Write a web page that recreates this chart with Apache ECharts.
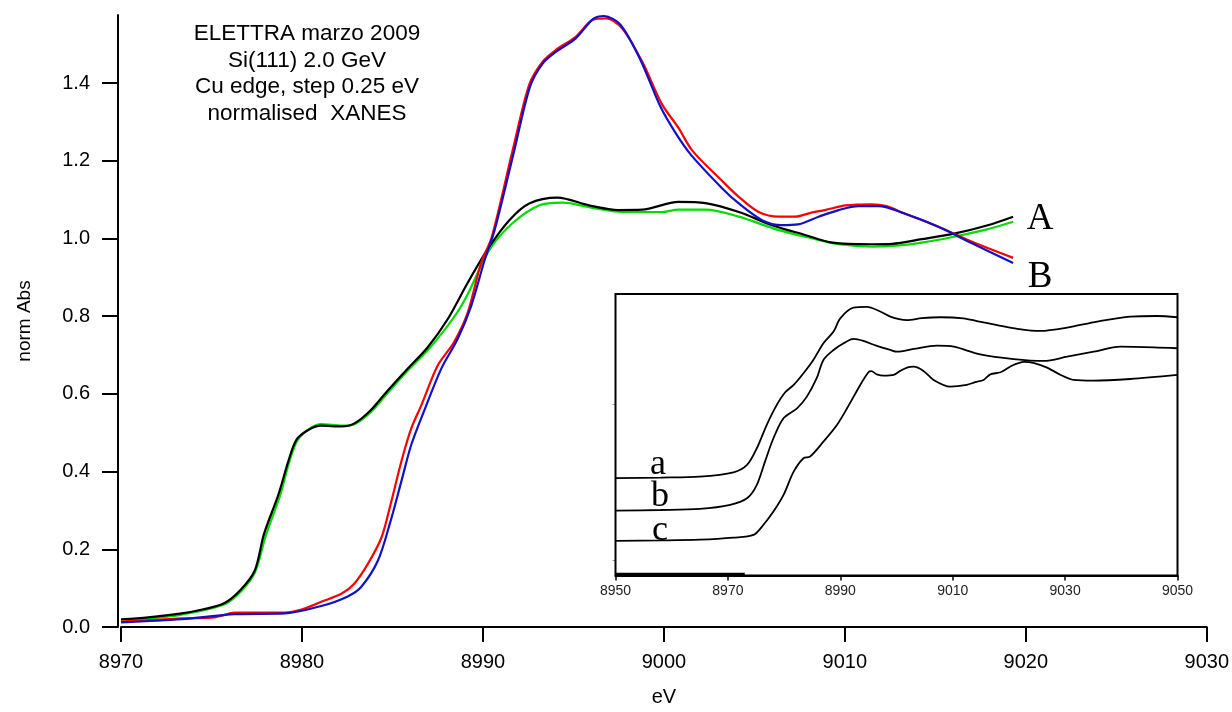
<!DOCTYPE html>
<html>
<head>
<meta charset="utf-8">
<script src="https://cdn.jsdelivr.net/npm/echarts@6/dist/echarts.min.js"></script>
<style>
  html, body { margin: 0; padding: 0; background: #fff; }
  #chart { width: 1232px; height: 712px; }
</style>
</head>
<body>
<div id="chart"></div>
<script>
// Cu K-edge XANES, normalised absorption vs photon energy (eV)
// Main panel: two pairs of spectra (A: black/green, B: red/blue)
const specA1 = [[8970,0.020],[8971.5,0.025],[8973.35,0.035],[8974.5,0.045],[8975.7,0.061],[8976.6,0.095],[8977.4,0.146],[8977.9,0.239],[8978.7,0.341],[8979.25,0.427],[8979.7,0.482],[8980.35,0.507],[8981.07,0.518],[8982.2,0.516],[8982.9,0.524],[8983.8,0.558],[8984.6,0.601],[8985.85,0.665],[8986.95,0.72],[8988.05,0.792],[8989.16,0.886],[8990.3,0.975],[8991.46,1.047],[8992.56,1.09],[8994.12,1.105],[8995.87,1.085],[8997.5,1.073],[8998.8,1.074],[9000.8,1.094],[9002.3,1.091],[9004.14,1.068],[9005.98,1.034],[9007.8,1.009],[9009.3,0.989],[9011.5,0.985],[9012.6,0.986],[9014.25,0.998],[9016.1,1.013],[9017.9,1.034],[9019.3,1.056]];
const specA2 = [[8970,0.018],[8971.5,0.022],[8973.35,0.032],[8975.7,0.058],[8976.6,0.09],[8977.4,0.14],[8978,0.235],[8978.8,0.34],[8979.3,0.425],[8979.75,0.48],[8980.4,0.51],[8981.07,0.522],[8982.2,0.518],[8982.9,0.522],[8983.8,0.553],[8984.6,0.595],[8985.85,0.66],[8986.95,0.712],[8988.05,0.775],[8988.7,0.818],[8989.2,0.86],[8990.35,0.97],[8991.63,1.039],[8993.1,1.085],[8994.4,1.092],[8996.24,1.077],[8997.7,1.068],[8999.9,1.068],[9000.8,1.074],[9002.3,1.074],[9004.14,1.056],[9006.3,1.022],[9008.2,1.0],[9009.66,0.985],[9011.5,0.979],[9013,0.982],[9014.25,0.989],[9015.9,1.003],[9017.75,1.022],[9019.3,1.043]];
const specB1 = [[8970,0.014],[8973.35,0.022],[8975.2,0.025],[8976.3,0.037],[8979.05,0.037],[8979.97,0.045],[8981.07,0.065],[8982.2,0.086],[8982.9,0.112],[8983.65,0.163],[8984.4,0.231],[8984.9,0.316],[8985.5,0.427],[8986.04,0.511],[8986.6,0.571],[8987.5,0.673],[8988.4,0.733],[8989.16,0.809],[8989.9,0.937],[8990.5,1.005],[8991.64,1.226],[8992.56,1.396],[8993.3,1.455],[8994.03,1.485],[8995.13,1.519],[8996.05,1.562],[8996.8,1.566],[8997.7,1.54],[8998.8,1.455],[8999.9,1.345],[9000.8,1.285],[9001.57,1.226],[9003.2,1.149],[9004.14,1.107],[9005.24,1.068],[9006.35,1.056],[9007.26,1.056],[9008.2,1.067],[9008.9,1.073],[9010.05,1.085],[9011.5,1.088],[9012.3,1.083],[9013.3,1.064],[9015.17,1.03],[9017,0.992],[9019.3,0.95]];
const specB2 = [[8970,0.012],[8973.35,0.02],[8976.3,0.033],[8979.05,0.035],[8981.07,0.054],[8982.5,0.078],[8983.27,0.103],[8984.2,0.171],[8984.9,0.273],[8985.5,0.376],[8986.04,0.469],[8986.8,0.562],[8987.7,0.665],[8988.6,0.741],[8989.35,0.826],[8990.1,0.945],[8990.65,1.022],[8991.7,1.22],[8992.6,1.39],[8993.3,1.45],[8994.03,1.48],[8995.13,1.515],[8996.1,1.565],[8996.7,1.572],[8997.6,1.55],[8998.7,1.46],[8999.8,1.34],[9000.6,1.275],[9001.5,1.215],[9003.2,1.13],[9004.14,1.09],[9005.43,1.047],[9006.5,1.034],[9007.4,1.036],[9008.55,1.056],[9009.66,1.073],[9010.76,1.083],[9011.86,1.083],[9013.3,1.064],[9015.17,1.03],[9017,0.988],[9019.3,0.937]];

// Inset: three reference spectra, vertically offset
const refA = [[8950,0.524],[8958,0.528],[8965,0.534],[8971,0.562],[8973.4,0.609],[8975.15,0.716],[8976.9,0.865],[8978.7,0.994],[8980.2,1.075],[8981.7,1.122],[8983.45,1.197],[8985.2,1.282],[8987,1.389],[8988.8,1.464],[8990,1.549],[8992.35,1.617],[8994.7,1.622],[8997.1,1.593],[8998.9,1.56],[9000.67,1.542],[9001.86,1.538],[9004.5,1.55],[9007.8,1.556],[9011.9,1.549],[9014.5,1.53],[9017.9,1.506],[9021.5,1.482],[9025.6,1.468],[9030.35,1.489],[9035.7,1.528],[9041.6,1.56],[9046.4,1.564],[9050,1.556]];
const refB = [[8950,0.316],[8958,0.32],[8965,0.327],[8970.4,0.353],[8973.4,0.395],[8975.15,0.481],[8976.6,0.63],[8978.1,0.78],[8979.9,0.908],[8982.3,0.972],[8984.05,1.047],[8985.8,1.165],[8987,1.282],[8988.8,1.346],[8990.6,1.389],[8992.35,1.417],[8994.1,1.404],[8996.5,1.372],[8998.9,1.346],[9000.1,1.335],[9003.05,1.353],[9007.2,1.374],[9010.2,1.367],[9014.9,1.318],[9020.85,1.288],[9026.2,1.276],[9030.35,1.303],[9035.1,1.335],[9039.85,1.367],[9045.8,1.363],[9050,1.357]];
const refC = [[8950,0.122],[8958,0.125],[8965,0.13],[8971,0.143],[8974.55,0.16],[8976.3,0.224],[8978.1,0.31],[8979.9,0.417],[8981.7,0.566],[8983.45,0.652],[8984.6,0.662],[8987,0.758],[8989.4,0.865],[8991.2,0.972],[8993.55,1.122],[8995,1.203],[8995.5,1.21],[8996.5,1.19],[8997.7,1.181],[8999.5,1.186],[9000.67,1.212],[9002,1.235],[9003.05,1.239],[9004.8,1.212],[9006.6,1.154],[9009.57,1.111],[9012.5,1.122],[9014,1.14],[9015.5,1.154],[9016.7,1.19],[9018.5,1.203],[9020.5,1.245],[9022.7,1.27],[9024.5,1.262],[9026.8,1.233],[9029.2,1.186],[9031.5,1.154],[9035.1,1.149],[9041.6,1.16],[9050,1.186]];
const refBase = [[8950,-0.09],[8973,-0.09]];

// Tick labels
const mainXTicks = [8970, 8980, 8990, 9000, 9010, 9020, 9030];
const mainYTicks = [0, 0.2, 0.4, 0.6, 0.8, 1.0, 1.2, 1.4];
const insetXTicks = [8950, 8970, 8990, 9010, 9030, 9050];
const insetYTicks = [0, 1];

const infoLines = ['ELETTRA marzo 2009', 'Si(111) 2.0 GeV', 'Cu edge, step 0.25 eV', 'normalised  XANES'];

const SANS = '"Liberation Sans", Arial, sans-serif';
const SERIF = '"Liberation Serif", "Times New Roman", serif';

const chart = echarts.init(document.getElementById('chart'), null, { renderer: 'canvas' });

function lineSeries(name, data, color, width, axisIdx) {
  return {
    name, type: 'line', data,
    xAxisIndex: axisIdx, yAxisIndex: axisIdx,
    showSymbol: false, symbol: 'none', smooth: 0.3,
    lineStyle: { color, width },
    animation: false, silent: true, z: 3
  };
}

const plainInt = v => String(Math.round(v));

chart.setOption({
  backgroundColor: '#ffffff',
  animation: false,
  grid: [
    { left: 121, top: 15, width: 1088, height: 615.5, show: false },
    { left: 615.5, top: 294, width: 562, height: 281.5, show: true,
      backgroundColor: '#ffffff', borderColor: '#000', borderWidth: 2, z: 1 }
  ],
  xAxis: [
    {
      type: 'value', gridIndex: 0, min: 8970, max: 9030, interval: 10,
      name: 'eV', nameLocation: 'middle', nameGap: 60,
      nameTextStyle: { fontFamily: SANS, fontSize: 20, color: '#000' },
      axisLine: { show: true, onZero: false, lineStyle: { color: '#000', width: 2 } },
      axisTick: { show: true, inside: false, length: 15, lineStyle: { color: '#000', width: 2 }, customValues: mainXTicks },
      axisLabel: { margin: 25, fontFamily: SANS, fontSize: 20, color: '#000', customValues: mainXTicks, formatter: plainInt },
      splitLine: { show: false }
    },
    {
      type: 'value', gridIndex: 1, min: 8950, max: 9050,
      axisLine: { show: true, onZero: false, lineStyle: { color: '#000', width: 2 } },
      axisTick: { show: true, length: 5, lineStyle: { color: '#000', width: 1.5 }, customValues: insetXTicks },
      axisLabel: { margin: 9, fontFamily: SANS, fontSize: 14, color: '#222', customValues: insetXTicks, formatter: plainInt },
      splitLine: { show: false }
    }
  ],
  yAxis: [
    {
      type: 'value', gridIndex: 0, min: 0, max: 1.575, offset: 3,
      name: 'norm Abs', nameLocation: 'middle', nameGap: 84, nameRotate: 90,
      nameTextStyle: { fontFamily: SANS, fontSize: 19, color: '#000' },
      axisLine: { show: true, onZero: false, lineStyle: { color: '#000', width: 2 } },
      axisTick: { show: true, length: 16, lineStyle: { color: '#000', width: 2 }, customValues: mainYTicks },
      axisLabel: { margin: 28, fontFamily: SANS, fontSize: 20, color: '#000',
        customValues: mainYTicks, formatter: v => v.toFixed(1) },
      splitLine: { show: false }
    },
    {
      type: 'value', gridIndex: 1, min: -0.1, max: 1.705,
      axisLine: { show: true, onZero: false, lineStyle: { color: '#000', width: 2 } },
      axisTick: { show: true, length: 3, lineStyle: { color: '#999', width: 1 }, customValues: insetYTicks },
      axisLabel: { show: false },
      splitLine: { show: false }
    }
  ],
  series: [
    lineSeries('A-green', specA2, '#00dd00', 2.2, 0),
    lineSeries('A-black', specA1, '#000000', 2.2, 0),
    lineSeries('B-red', specB1, '#ff0000', 2.2, 0),
    lineSeries('B-blue', specB2, '#1010c8', 2.2, 0),
    lineSeries('a', refA, '#000', 1.8, 1),
    lineSeries('b', refB, '#000', 1.8, 1),
    lineSeries('c', refC, '#000', 1.8, 1),
    lineSeries('base', refBase, '#000', 2.2, 1)
  ],
  graphic: [
    {
      type: 'text', position: [307, 21], z: 10,
      style: {
        text: infoLines.join('\n'), x: 0, y: 0, align: 'center',
        font: '22.5px ' + SANS, fill: '#000', lineHeight: 26.5
      }
    },
    { type: 'text', position: [1040, 219], z: 10,
      style: { text: 'A', align: 'center', verticalAlign: 'middle', font: '37px ' + SERIF, fill: '#000' } },
    { type: 'text', position: [1040, 277], z: 10,
      style: { text: 'B', align: 'center', verticalAlign: 'middle', font: '37px ' + SERIF, fill: '#000' } },
    { type: 'text', position: [658, 465], z: 10,
      style: { text: 'a', align: 'center', verticalAlign: 'middle', font: '36px ' + SERIF, fill: '#000' } },
    { type: 'text', position: [660, 497], z: 10,
      style: { text: 'b', align: 'center', verticalAlign: 'middle', font: '36px ' + SERIF, fill: '#000' } },
    { type: 'text', position: [660, 531], z: 10,
      style: { text: 'c', align: 'center', verticalAlign: 'middle', font: '36px ' + SERIF, fill: '#000' } }
  ]
});
</script>
</body>
</html>
